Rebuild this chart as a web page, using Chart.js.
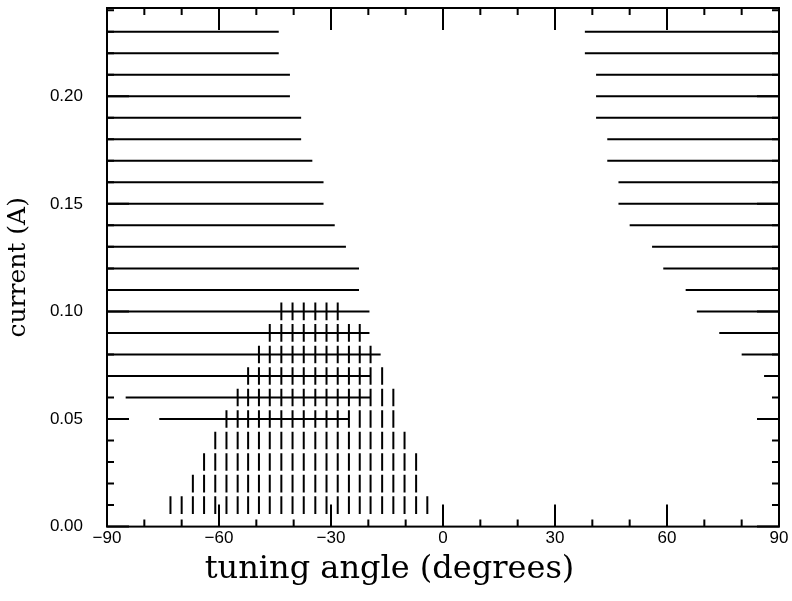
<!DOCTYPE html>
<html>
<head>
<meta charset="utf-8">
<script src="https://cdn.jsdelivr.net/npm/chart.js@4.4.1/dist/chart.umd.min.js"></script>
<style>
    html, body { margin: 0; padding: 0; background: #fff; }
</style>
</head>
<body>
<canvas id="scatter__tuning" width="792" height="601"></canvas>
<script>
// axis ticks
const xMajor = [-90, -60, -30, 0, 30, 60, 90];
const xLabels = ['\u221290', '\u221260', '\u221230', '0', '30', '60', '90'];
const yMajor = [0, 0.05, 0.10, 0.15, 0.20];
const yLabels = ['0.00', '0.05', '0.10', '0.15', '0.20'];

// horizontal bars, left side (current level, start angle, end angle)
const leftLevels = [0.23, 0.22, 0.21, 0.20, 0.19, 0.18, 0.17, 0.16, 0.15, 0.14, 0.13, 0.12, 0.11, 0.10, 0.09, 0.08, 0.07, 0.06, 0.05];
const leftStart  = [-90, -90, -90, -90, -90, -90, -90, -90, -90, -90, -90, -90, -90, -90, -90, -90, -90, -85, -76];
const leftEnd    = [-44, -44, -41, -41, -38, -38, -35, -32, -32, -29, -26, -22.5, -22.5, -19.7, -19.7, -16.7, -19.5, -19.5, -25.3];

// horizontal bars, right side
const rightLevels = [0.23, 0.22, 0.21, 0.20, 0.19, 0.18, 0.17, 0.16, 0.15, 0.14, 0.13, 0.12, 0.11, 0.10, 0.09, 0.08, 0.07];
const rightStart  = [38, 38, 41, 41, 41, 44, 44, 47, 47, 50, 56, 59, 65, 68, 74, 80, 86];
const rightEnd    = [90, 90, 90, 90, 90, 90, 90, 90, 90, 90, 90, 90, 90, 90, 90, 90, 90];

// short vertical marks
const dashAngles = [-73, -70, -67, -64, -61, -58, -55, -52.2, -49.3, -46.4, -43.3, -40.3, -37.3, -34.2, -31.2, -28.2, -25.2, -22.3, -19.4, -16.3, -13.3, -10.3, -7.2, -4.2];
const dashLevels = [0.10, 0.09, 0.08, 0.07, 0.06, 0.05, 0.04, 0.03, 0.02, 0.01];
const dashFrom   = [-43.3, -46.4, -49.3, -52.2, -55, -58, -61, -64, -67, -73];
const dashTo     = [-28.2, -22.3, -19.4, -16.3, -13.3, -13.3, -10.3, -7.2, -7.2, -4.2];
const dashHalf = 0.0041;

function labelFor(v, majors, labels) {
    const i = majors.findIndex(m => Math.abs(m - v) < 1e-6);
    return i >= 0 ? labels[i] : '';
}

function segment(y, x0, x1) {
    return {
        data: [{x: x0, y: y}, {x: x1, y: y}],
        showLine: true,
        pointRadius: 0,
        borderColor: '#000',
        borderWidth: 2,
        borderCapStyle: 'butt'
    };
}

let datasets = [];
leftLevels.forEach((y, i) => datasets.push(segment(y, leftStart[i], leftEnd[i])));
rightLevels.forEach((y, i) => datasets.push(segment(y, rightStart[i], rightEnd[i])));

let dashPts = [];
dashLevels.forEach((y, i) => {
    dashAngles.forEach(a => {
        if (a >= dashFrom[i] - 0.01 && a <= dashTo[i] + 0.01) dashPts.push({x: a, y: y});
    });
});
datasets.push({
    data: dashPts,
    showLine: false,
    pointStyle: 'line',
    pointRotation: 90,
    pointBorderColor: '#000',
    pointBorderWidth: 2,
    pointRadius: c => {
        const s = c.chart.scales.y;
        return Math.abs(s.getPixelForValue(0) - s.getPixelForValue(dashHalf));
    }
});

// box round the plot with inward ticks on all four sides
const frameTicks = {
    id: 'frameTicks',
    afterDatasetsDraw(chart) {
        const {ctx, chartArea: a, scales} = chart;
        ctx.save();
        ctx.strokeStyle = '#000';
        ctx.lineWidth = 2;
        ctx.strokeRect(a.left, a.top, a.right - a.left, a.bottom - a.top);
        ctx.beginPath();
        scales.x.ticks.forEach(t => {
            const px = scales.x.getPixelForValue(t.value);
            const len = t.label ? 22 : 7;
            ctx.moveTo(px, a.bottom); ctx.lineTo(px, a.bottom - len);
            ctx.moveTo(px, a.top); ctx.lineTo(px, a.top + len);
        });
        scales.y.ticks.forEach(t => {
            const py = scales.y.getPixelForValue(t.value);
            const len = t.label ? 22 : 7;
            ctx.moveTo(a.left, py); ctx.lineTo(a.left + len, py);
            ctx.moveTo(a.right, py); ctx.lineTo(a.right - len, py);
        });
        ctx.stroke();
        ctx.restore();
    }
};

const tickFont = { family: 'Liberation Sans', size: 17 };

let ctx__tuning = document.getElementById('scatter__tuning').getContext('2d');
new Chart(ctx__tuning, {
    type: 'scatter',
    data: { datasets: datasets },
    options: {
        responsive: false,
        animation: false,
        events: [],
        layout: { padding: { top: 8, right: 13, left: 0, bottom: 0 } },
        plugins: {
            legend: { display: false },
            tooltip: { enabled: false },
            title: {
                display: true,
                position: 'bottom',
                text: 'tuning angle (degrees)',
                color: '#000',
                font: { family: 'DejaVu Serif', size: 32, weight: 'normal' },
                padding: { top: 0, bottom: 12 }
            }
        },
        scales: {
            x: {
                type: 'linear',
                min: -90,
                max: 90,
                grid: { display: false, drawTicks: false },
                border: { display: false },
                ticks: {
                    stepSize: 10,
                    autoSkip: false,
                    maxRotation: 0,
                    padding: 2,
                    color: '#000',
                    font: tickFont,
                    callback: v => labelFor(v, xMajor, xLabels)
                },
                afterFit: s => { s.height = 24; }
            },
            y: {
                type: 'linear',
                min: 0,
                max: 0.241,
                grid: { display: false, drawTicks: false },
                border: { display: false },
                title: {
                    display: true,
                    text: 'current (A)',
                    color: '#000',
                    font: { family: 'DejaVu Serif', size: 25, weight: 'normal' },
                    padding: { top: 3, bottom: 0 }
                },
                ticks: {
                    stepSize: 0.01,
                    includeBounds: false,
                    autoSkip: false,
                    padding: 24,
                    color: '#000',
                    font: tickFont,
                    callback: v => labelFor(v, yMajor, yLabels)
                },
                afterFit: s => { s.width = 107; s.paddingTop = 0; s.paddingBottom = 0; }
            }
        }
    },
    plugins: [frameTicks]
});
</script>
</body>
</html>
